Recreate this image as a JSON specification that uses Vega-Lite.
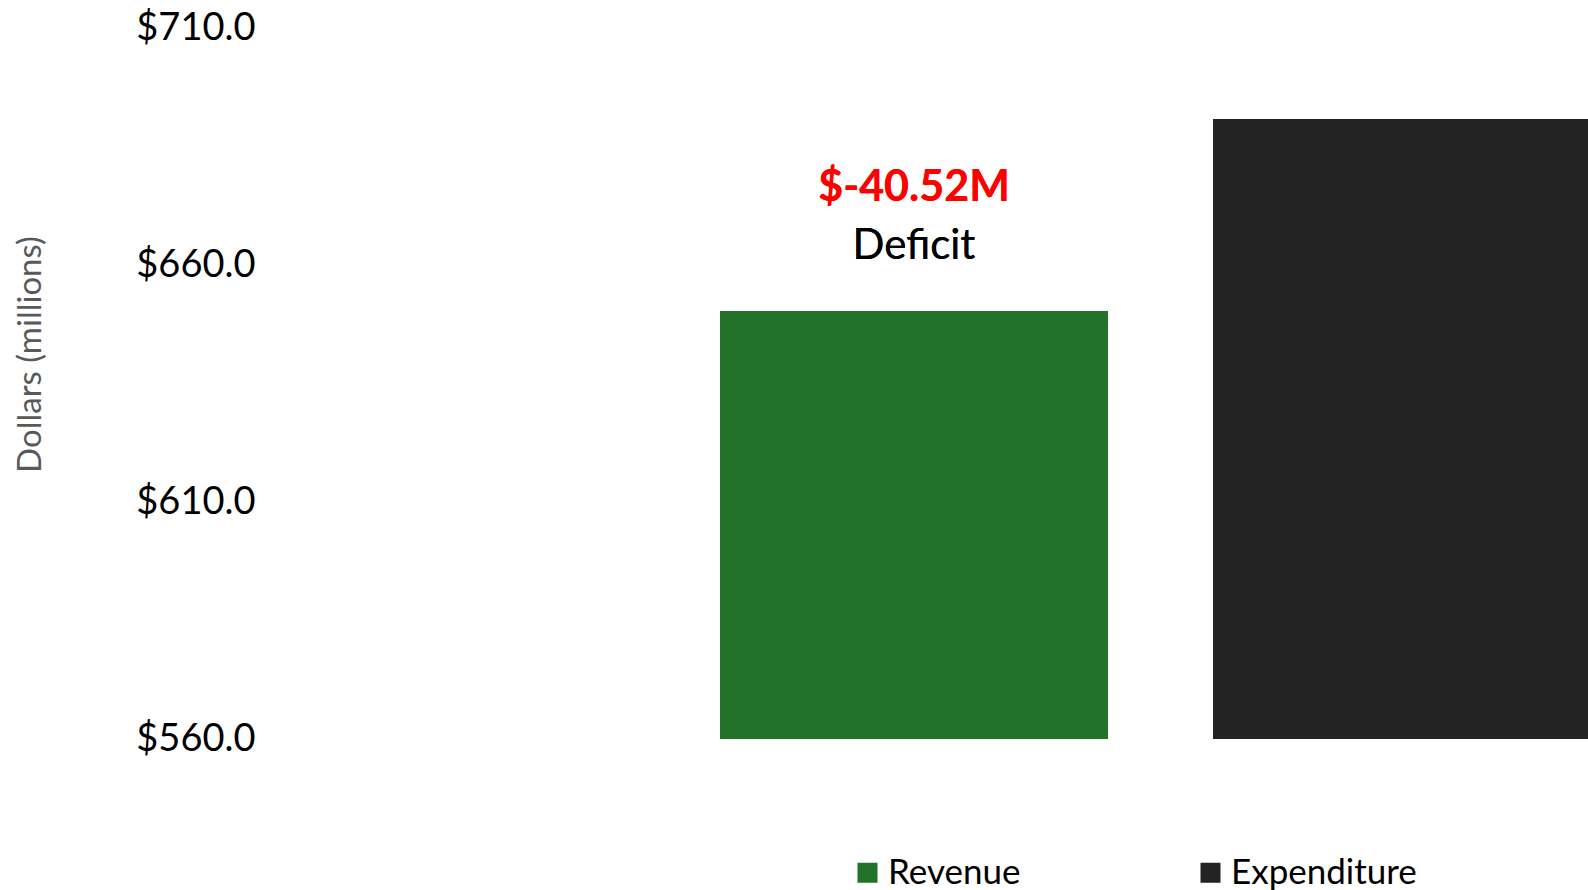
{
  "$schema": "https://vega.github.io/schema/vega-lite/v6.json",
  "autosize": {"type": "none"},
  "padding": {"left": 270, "top": 28, "right": 0, "bottom": 151},
  "width": 1318,
  "height": 711,
  "config": {
    "font": "Lato",
    "view": {"stroke": null},
    "legend": {
      "orient": "none",
      "legendX": 580,
      "legendY": 827,
      "direction": "horizontal",
      "symbolType": "square",
      "symbolSize": 400,
      "symbolStrokeWidth": 0,
      "labelFontSize": 35,
      "labelColor": "#000000",
      "labelOffset": 3,
      "labelLimit": 0,
      "columnPadding": 172,
      "padding": 0
    }
  },
  "data": {
    "values": [
      {"type": "Revenue", "amount": 650.3},
      {"type": "Expenditure", "amount": 690.82}
    ]
  },
  "layer": [
    {
      "mark": {"type": "bar", "clip": true},
      "encoding": {
        "x": {
          "field": "type",
          "type": "nominal",
          "sort": ["Revenue", "Expenditure"],
          "scale": {"domain": ["Revenue", "Expenditure"], "paddingInner": 0.213, "paddingOuter": 0, "range": [450, 1331]},
          "axis": null
        },
        "y": {
          "field": "amount",
          "type": "quantitative",
          "scale": {"domain": [560, 710], "zero": false, "nice": false},
          "axis": {
            "title": "Dollars (millions)",
            "titleFontSize": 33,
            "titleFontWeight": "normal",
            "titleColor": "#595959",
            "titleX": -223,
            "titleY": 326,
            "values": [560, 610, 660, 710],
            "format": "$.1f",
            "labelFontSize": 38,
            "labelColor": "#000000",
            "labelPadding": 15,
            "labelFlush": false,
            "ticks": false,
            "domain": false,
            "grid": false
          }
        },
        "y2": {"datum": 560},
        "color": {
          "field": "type",
          "type": "nominal",
          "scale": {"domain": ["Revenue", "Expenditure"], "range": ["#22722a", "#232323"]},
          "legend": {"title": null}
        }
      }
    },
    {
      "mark": {"type": "text", "fontSize": 43, "fontWeight": "bold", "color": "#ff0000", "baseline": "middle", "align": "center"},
      "encoding": {
        "x": {"datum": "Revenue"},
        "y": {"datum": 676.2},
        "text": {"value": "$-40.52M"}
      }
    },
    {
      "mark": {"type": "text", "fontSize": 42, "color": "#000000", "baseline": "middle", "align": "center"},
      "encoding": {
        "x": {"datum": "Revenue"},
        "y": {"datum": 664.0},
        "text": {"value": "Deficit"}
      }
    }
  ]
}
